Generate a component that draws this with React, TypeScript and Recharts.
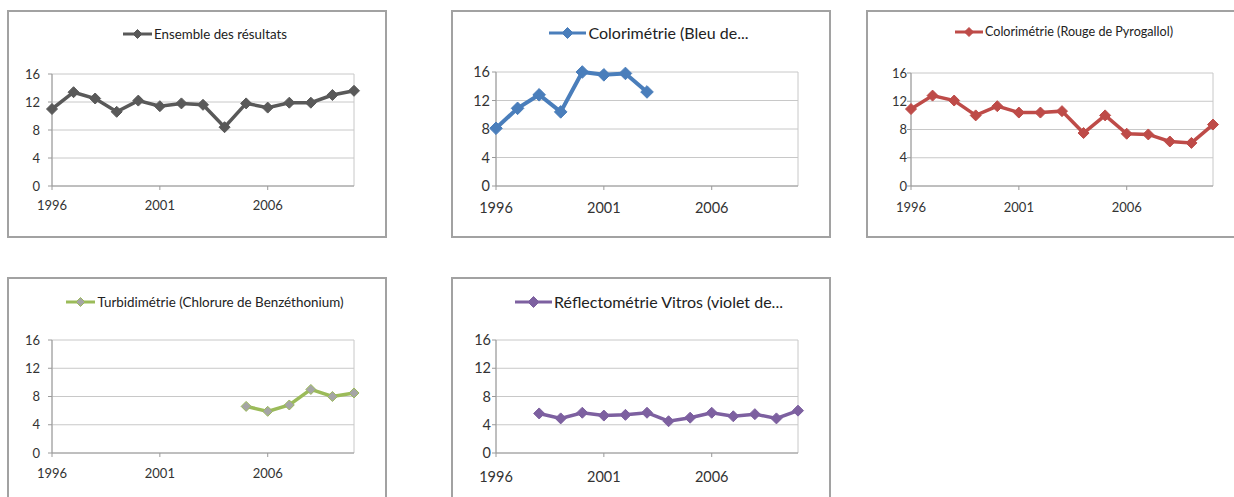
import React from 'react';
import { LineChart, Line, XAxis, YAxis, CartesianGrid, Legend } from 'recharts';

const years = [1996, 1997, 1998, 1999, 2000, 2001, 2002, 2003, 2004, 2005, 2006, 2007, 2008, 2009, 2010];
const xLabelTicks = [1996, 2001, 2006];
const gridYears = [1996, 1998, 2000, 2002, 2004, 2006, 2008, 2010];
const yTicks = [0, 4, 8, 12, 16];

const ensembleName = 'Ensemble des résultats';
const ensembleValues = [11.0, 13.4, 12.5, 10.6, 12.2, 11.4, 11.8, 11.6, 8.4, 11.8, 11.2, 11.9, 11.9, 13.0, 13.6];

const bleuName = 'Colorimétrie (Bleu de...';
const bleuValues = [8.1, 10.9, 12.8, 10.4, 16.0, 15.6, 15.8, 13.2, null, null, null, null, null, null, null];

const rougeName = 'Colorimétrie (Rouge de Pyrogallol)';
const rougeValues = [10.9, 12.8, 12.1, 10.0, 11.3, 10.4, 10.4, 10.6, 7.5, 10.0, 7.4, 7.3, 6.3, 6.1, 8.7];

const turbiName = 'Turbidimétrie (Chlorure de Benzéthonium)';
const turbiValues = [null, null, null, null, null, null, null, null, null, 6.6, 5.9, 6.8, 9.0, 8.0, 8.5];

const vitrosName = 'Réflectométrie Vitros (violet de...';
const vitrosValues = [null, null, 5.6, 4.9, 5.7, 5.3, 5.4, 5.7, 4.5, 5.0, 5.7, 5.2, 5.5, 4.9, 6.0];

type PanelProps = {
  name: string;
  values: (number | null)[];
  color: string;
  markerFill: string;
  left: number;
  top: number;
  legendTop: number;
  plotTop: number;
  tickFont: number;
  legendFont: number;
  legendLine: number;
  yTickMargin: number;
  xTickMargin: number;
  r: number;
  strokeWidth: number;
};

const diamondPath = (cx: number, cy: number, r: number) =>
  `M${cx},${cy - r}L${cx + r},${cy}L${cx},${cy + r}L${cx - r},${cy}Z`;

function Panel(p: PanelProps) {
  const data = years.map((y, i) => ({ year: y, value: p.values[i] }));
  const W = 376;
  const H = 224;
  const legendHeight = p.plotTop - p.legendTop;
  const renderDot = (props: any) => {
    const { cx, cy, index, value } = props;
    if (value == null || cx == null || cy == null) return <g key={`d-${index}`} />;
    return (
      <path
        key={`d-${index}`}
        d={diamondPath(cx, cy, p.r)}
        fill={p.markerFill}
        stroke={p.color}
        strokeWidth={1}
      />
    );
  };
  const lr = p.legendLine > 32 ? 5.5 : 4.5;
  const legendContent = () => (
    <div style={{ height: legendHeight, width: W, paddingLeft: 16, boxSizing: 'border-box', textAlign: 'center' }}>
      <div style={{ display: 'inline-flex', alignItems: 'center', height: 20, lineHeight: '20px' }}>
        <svg width={p.legendLine} height={12} style={{ display: 'block' }}>
          <line x1={0} y1={6} x2={p.legendLine} y2={6} stroke={p.color} strokeWidth={3} />
          <path d={diamondPath(p.legendLine / 2, 6, lr)} fill={p.markerFill} stroke={p.color} strokeWidth={1} />
        </svg>
        <span style={{ fontSize: p.legendFont, color: '#222', marginLeft: 2, whiteSpace: 'nowrap' }}>{p.name}</span>
      </div>
    </div>
  );
  return (
    <div
      style={{
        position: 'absolute',
        left: p.left,
        top: p.top,
        width: 380,
        height: 228,
        border: '2px solid #a2a2a2',
        boxSizing: 'border-box',
        background: '#fff',
      }}
    >
      <LineChart
        width={W}
        height={H}
        data={data}
        margin={{ top: p.legendTop, right: 31, bottom: 0, left: 0 }}
      >
        <Legend verticalAlign="top" align="center" wrapperStyle={{ left: 0, width: W }} content={legendContent} />
        <CartesianGrid xAxisId="g" stroke="#c8c8c8" strokeWidth={1} />
        <XAxis
          dataKey="year"
          type="number"
          domain={[1996, 2010]}
          ticks={xLabelTicks}
          interval={0}
          height={50}
          tickSize={4}
          tickMargin={p.xTickMargin}
          stroke="#9a9a9a"
          tick={{ fill: '#333', fontSize: p.tickFont }}
        />
        <XAxis
          xAxisId="g"
          dataKey="year"
          type="number"
          domain={[1996, 2010]}
          ticks={gridYears}
          interval={0}
          tick={false}
          tickLine={false}
          axisLine={false}
          height={0}
        />
        <YAxis
          width={43}
          domain={[0, 16]}
          ticks={yTicks}
          interval={0}
          tickSize={4}
          tickMargin={p.yTickMargin}
          stroke="#9a9a9a"
          tick={{ fill: '#333', fontSize: p.tickFont }}
        />
        <Line
          dataKey="value"
          stroke={p.color}
          strokeWidth={p.strokeWidth}
          dot={renderDot}
          activeDot={false}
          isAnimationActive={false}
          legendType="none"
        />
      </LineChart>
    </div>
  );
}

export default function App() {
  return (
    <div
      style={{
        position: 'absolute',
        left: 0,
        top: 0,
        width: 1234,
        height: 497,
        overflow: 'hidden',
        background: '#fff',
        fontFamily: 'Lato, "Open Sans", sans-serif',
      }}
    >
      <Panel name={ensembleName} values={ensembleValues} color="#595959" markerFill="#595959"
        left={7} top={10} legendTop={12} plotTop={62} tickFont={13} legendFont={13.3} legendLine={29}
        yTickMargin={8} xTickMargin={11} r={5.5} strokeWidth={3.5} />
      <Panel name={bleuName} values={bleuValues} color="#4a7ebb" markerFill="#4a7ebb"
        left={451} top={10} legendTop={11} plotTop={60} tickFont={14.5} legendFont={16} legendLine={37}
        yTickMargin={2} xTickMargin={13} r={6.3} strokeWidth={4} />
      <Panel name={rougeName} values={rougeValues} color="#be4b48" markerFill="#be4b48"
        left={866} top={10} legendTop={10} plotTop={61} tickFont={13} legendFont={12.6} legendLine={28}
        yTickMargin={0} xTickMargin={13} r={5.5} strokeWidth={3.5} />
      <Panel name={turbiName} values={turbiValues} color="#9bbb59" markerFill="#a5a5a5"
        left={7} top={277} legendTop={13} plotTop={61} tickFont={13} legendFont={13.4} legendLine={29}
        yTickMargin={8} xTickMargin={12} r={5} strokeWidth={3.5} />
      <Panel name={vitrosName} values={vitrosValues} color="#7d60a0" markerFill="#7d60a0"
        left={451} top={277} legendTop={13} plotTop={61} tickFont={14.5} legendFont={16} legendLine={37}
        yTickMargin={1} xTickMargin={15} r={5.5} strokeWidth={3.5} />
    </div>
  );
}
